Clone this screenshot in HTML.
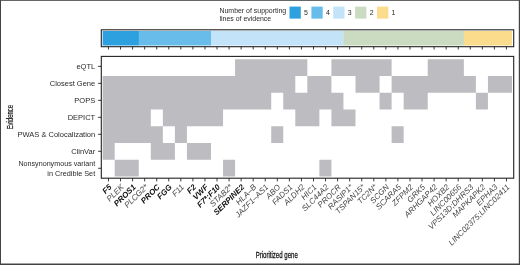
<!DOCTYPE html>
<html lang="en"><head><meta charset="utf-8"><title>Evidence heatmap</title>
<style>
html,body{margin:0;padding:0;background:#fff;}
body{width:520px;height:265px;overflow:hidden;}
svg{display:block;will-change:transform;font-family:"Liberation Sans",sans-serif;}
</style></head><body>
<svg width="520" height="265" viewBox="0 0 520 265">
<rect x="0" y="0" width="520" height="265" fill="#fff"/>
<g font-size="6.95" fill="#2a2a2a">
<text x="219.5" y="12.9">Number of supporting</text>
<text x="219.5" y="21.3">lines of evidence</text>
<rect x="289.5" y="6.6" width="11.3" height="12" fill="#2DA0E0"/>
<text x="304.1" y="15.4">5</text>
<rect x="311.4" y="6.6" width="11.3" height="12" fill="#68BCEA"/>
<text x="326.0" y="15.4">4</text>
<rect x="333.2" y="6.6" width="11.3" height="12" fill="#C2E3F8"/>
<text x="347.8" y="15.4">3</text>
<rect x="355.1" y="6.6" width="11.3" height="12" fill="#CBDBC2"/>
<text x="369.7" y="15.4">2</text>
<rect x="377.0" y="6.6" width="11.3" height="12" fill="#FBDB8C"/>
<text x="391.6" y="15.4">1</text>
</g>
<rect x="102.65" y="31.0" width="36.42" height="14.50" fill="#2DA0E0"/>
<rect x="138.77" y="31.0" width="72.54" height="14.50" fill="#68BCEA"/>
<rect x="211.01" y="31.0" width="132.74" height="14.50" fill="#C2E3F8"/>
<rect x="343.45" y="31.0" width="120.70" height="14.50" fill="#CBDBC2"/>
<rect x="463.85" y="31.0" width="48.16" height="14.50" fill="#FBDB8C"/>
<rect x="101.3" y="29.8" width="412.40" height="16.90" fill="none" stroke="#222" stroke-width="1.1"/>
<path d="M235.09 59.20h72.24v16.74h-72.24zM331.41 59.20h60.20v16.74h-60.20zM427.73 59.20h36.12v16.74h-36.12zM102.65 75.94h192.64v16.74h-192.64zM307.33 75.94h24.08v16.74h-24.08zM355.49 75.94h24.08v16.74h-24.08zM391.61 75.94h84.28v16.74h-84.28zM487.93 75.94h24.08v16.74h-24.08zM102.65 92.68h168.56v16.74h-168.56zM283.25 92.68h60.20v16.74h-60.20zM379.57 92.68h12.04v16.74h-12.04zM403.65 92.68h24.08v16.74h-24.08zM475.89 92.68h12.04v16.74h-12.04zM102.65 109.42h48.16v16.74h-48.16zM162.85 109.42h60.20v16.74h-60.20zM295.29 109.42h24.08v16.74h-24.08zM331.41 109.42h24.08v16.74h-24.08zM102.65 126.16h60.20v16.74h-60.20zM174.89 126.16h12.04v16.74h-12.04zM271.21 126.16h12.04v16.74h-12.04zM391.61 126.16h12.04v16.74h-12.04zM102.65 142.90h12.04v16.74h-12.04zM150.81 142.90h24.08v16.74h-24.08zM186.93 142.90h24.08v16.74h-24.08zM114.69 159.64h24.08v16.74h-24.08zM223.05 159.64h12.04v16.74h-12.04zM319.37 159.64h12.04v16.74h-12.04z" fill="#BDBDC1"/>
<rect x="101.3" y="56.4" width="412.40" height="121.80" fill="none" stroke="#222" stroke-width="1.1"/>
<path d="M108.48 46.7v2.8 M108.48 178.2v3.2 M120.54 46.7v2.8 M120.54 178.2v3.2 M132.60 46.7v2.8 M132.60 178.2v3.2 M144.66 46.7v2.8 M144.66 178.2v3.2 M156.72 46.7v2.8 M156.72 178.2v3.2 M168.78 46.7v2.8 M168.78 178.2v3.2 M180.84 46.7v2.8 M180.84 178.2v3.2 M192.90 46.7v2.8 M192.90 178.2v3.2 M204.96 46.7v2.8 M204.96 178.2v3.2 M217.02 46.7v2.8 M217.02 178.2v3.2 M229.08 46.7v2.8 M229.08 178.2v3.2 M241.14 46.7v2.8 M241.14 178.2v3.2 M253.20 46.7v2.8 M253.20 178.2v3.2 M265.26 46.7v2.8 M265.26 178.2v3.2 M277.32 46.7v2.8 M277.32 178.2v3.2 M289.38 46.7v2.8 M289.38 178.2v3.2 M301.44 46.7v2.8 M301.44 178.2v3.2 M313.50 46.7v2.8 M313.50 178.2v3.2 M325.56 46.7v2.8 M325.56 178.2v3.2 M337.62 46.7v2.8 M337.62 178.2v3.2 M349.68 46.7v2.8 M349.68 178.2v3.2 M361.74 46.7v2.8 M361.74 178.2v3.2 M373.80 46.7v2.8 M373.80 178.2v3.2 M385.86 46.7v2.8 M385.86 178.2v3.2 M397.92 46.7v2.8 M397.92 178.2v3.2 M409.98 46.7v2.8 M409.98 178.2v3.2 M422.04 46.7v2.8 M422.04 178.2v3.2 M434.10 46.7v2.8 M434.10 178.2v3.2 M446.16 46.7v2.8 M446.16 178.2v3.2 M458.22 46.7v2.8 M458.22 178.2v3.2 M470.28 46.7v2.8 M470.28 178.2v3.2 M482.34 46.7v2.8 M482.34 178.2v3.2 M494.40 46.7v2.8 M494.40 178.2v3.2 M506.46 46.7v2.8 M506.46 178.2v3.2 M101.3 66.39h-3.2 M101.3 83.37h-3.2 M101.3 100.35h-3.2 M101.3 117.33h-3.2 M101.3 134.31h-3.2 M101.3 151.29h-3.2 M101.3 168.27h-3.2" stroke="#222" stroke-width="0.9" fill="none"/>
<g font-size="7.5" fill="#2a2a2a" text-anchor="end">
<text x="95.2" y="69.09">eQTL</text>
<text x="95.2" y="86.07">Closest Gene</text>
<text x="95.2" y="103.05">POPS</text>
<text x="95.2" y="120.03">DEPICT</text>
<text x="95.2" y="137.01">PWAS &amp; Colocalization</text>
<text x="95.2" y="153.99">ClinVar</text>
<text x="95.2" y="166.37" textLength="76.8" lengthAdjust="spacingAndGlyphs">Nonsynonymous variant</text>
<text x="95.2" y="175.57" textLength="47.9" lengthAdjust="spacingAndGlyphs">in Credible Set</text>
</g>
<g font-size="8" text-anchor="end" font-style="italic">
<text transform="translate(107.98 183.4) rotate(-45)" x="0" y="5.9" font-weight="bold" fill="#111">F5</text>
<text transform="translate(120.04 183.4) rotate(-45)" x="0" y="5.9" fill="#5a5a5a" stroke="#5a5a5a" stroke-width="0.1">PLEK</text>
<text transform="translate(132.10 183.4) rotate(-45)" x="0" y="5.9" font-weight="bold" fill="#111">PROS1</text>
<text transform="translate(144.16 183.4) rotate(-45)" x="0" y="5.9" fill="#5a5a5a" stroke="#5a5a5a" stroke-width="0.1">PLCG2*</text>
<text transform="translate(156.22 183.4) rotate(-45)" x="0" y="5.9" font-weight="bold" fill="#111">PROC</text>
<text transform="translate(168.28 183.4) rotate(-45)" x="0" y="5.9" font-weight="bold" fill="#111">FGG</text>
<text transform="translate(180.34 183.4) rotate(-45)" x="0" y="5.9" fill="#5a5a5a" stroke="#5a5a5a" stroke-width="0.1">F11</text>
<text transform="translate(192.40 183.4) rotate(-45)" x="0" y="5.9" font-weight="bold" fill="#111">F2</text>
<text transform="translate(204.46 183.4) rotate(-45)" x="0" y="5.9" font-weight="bold" fill="#111">VWF</text>
<text transform="translate(216.52 183.4) rotate(-45)" x="0" y="5.9" font-weight="bold" fill="#111">F7*;F10</text>
<text transform="translate(228.58 183.4) rotate(-45)" x="0" y="5.9" fill="#5a5a5a" stroke="#5a5a5a" stroke-width="0.1">STAB2*</text>
<text transform="translate(240.64 183.4) rotate(-45)" x="0" y="5.9" font-weight="bold" fill="#111">SERPINE2</text>
<text transform="translate(252.70 183.4) rotate(-45)" x="0" y="5.9" fill="#444">HLA–B</text>
<text transform="translate(264.76 183.4) rotate(-45)" x="0" y="5.9" fill="#444">JAZF1–AS1</text>
<text transform="translate(276.82 183.4) rotate(-45)" x="0" y="5.9" fill="#444">ABO</text>
<text transform="translate(288.88 183.4) rotate(-45)" x="0" y="5.9" fill="#444">FADS1</text>
<text transform="translate(300.94 183.4) rotate(-45)" x="0" y="5.9" fill="#444">ALDH2</text>
<text transform="translate(313.00 183.4) rotate(-45)" x="0" y="5.9" fill="#444">HIC1</text>
<text transform="translate(325.06 183.4) rotate(-45)" x="0" y="5.9" fill="#444">SLC44A2</text>
<text transform="translate(337.12 183.4) rotate(-45)" x="0" y="5.9" fill="#444">PROCR</text>
<text transform="translate(349.18 183.4) rotate(-45)" x="0" y="5.9" fill="#444">RASIP1*</text>
<text transform="translate(361.24 183.4) rotate(-45)" x="0" y="5.9" fill="#444">TSPAN15*</text>
<text transform="translate(373.30 183.4) rotate(-45)" x="0" y="5.9" fill="#444">TC2N*</text>
<text transform="translate(385.36 183.4) rotate(-45)" x="0" y="5.9" fill="#444">SCGN</text>
<text transform="translate(397.42 183.4) rotate(-45)" x="0" y="5.9" fill="#444">SCARA5</text>
<text transform="translate(409.48 183.4) rotate(-45)" x="0" y="5.9" fill="#444">ZFPM2</text>
<text transform="translate(421.54 183.4) rotate(-45)" x="0" y="5.9" fill="#444">GRK5</text>
<text transform="translate(433.60 183.4) rotate(-45)" x="0" y="5.9" fill="#444">ARHGAP42</text>
<text transform="translate(445.66 183.4) rotate(-45)" x="0" y="5.9" fill="#444">HOXB2</text>
<text transform="translate(457.72 183.4) rotate(-45)" x="0" y="5.9" fill="#444">LINC00656</text>
<text transform="translate(469.78 183.4) rotate(-45)" x="0" y="5.9" fill="#444">VPS13D;DHRS3</text>
<text transform="translate(481.84 183.4) rotate(-45)" x="0" y="5.9" fill="#444">MAPKAPK2</text>
<text transform="translate(493.90 183.4) rotate(-45)" x="0" y="5.9" fill="#444">EPHA3</text>
<text transform="translate(505.96 183.4) rotate(-45)" x="0" y="5.9" fill="#444">LINC02375;LINC02411</text>
</g>
<text transform="translate(13.0 117.2) rotate(-90) scale(0.655 1)" text-anchor="middle" font-size="9" fill="#111" stroke="#111" stroke-width="0.18">Evidence</text>
<text transform="translate(276.7 258.4) scale(0.69 1)" text-anchor="middle" font-size="8.8" fill="#111" stroke="#111" stroke-width="0.25">Prioritized gene</text>
<path d="M0.5 0V265" stroke="#444" stroke-width="1" fill="none"/>
<path d="M0 0.45H520" stroke="#4a4a4a" stroke-width="0.9" fill="none"/>
<path d="M519.4 0V265" stroke="#444" stroke-width="1.2" fill="none"/>
<path d="M0 264.3H520" stroke="#444" stroke-width="1.4" fill="none"/>
</svg>
</body></html>
